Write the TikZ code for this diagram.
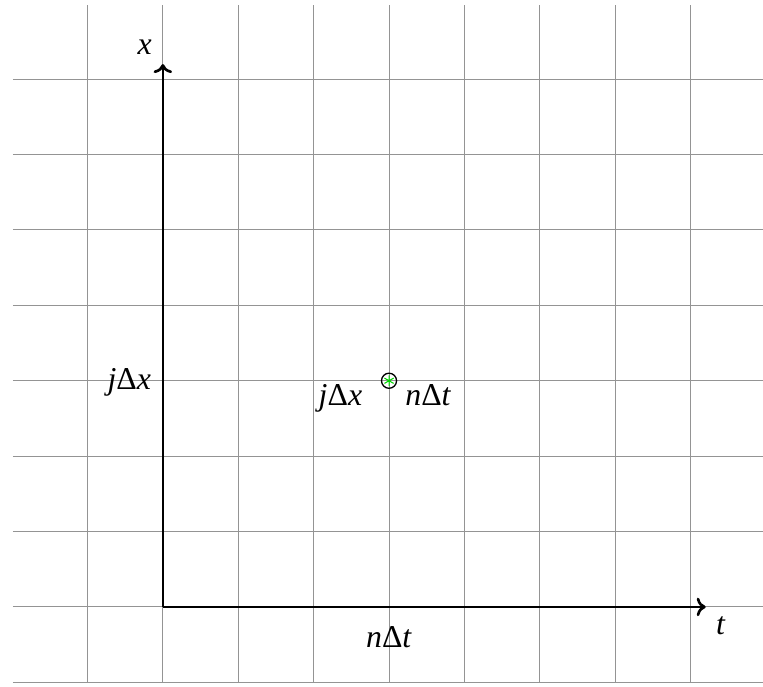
\documentclass[tikz,border=0pt]{standalone}
\usepackage{fontspec}
\setmainfont{Liberation Serif}
\usetikzlibrary{arrows.meta,plotmarks}

\begin{document}
\begin{tikzpicture}[
gridline/.style={draw=black!42,line width=0.4pt},
axis/.style={-{To[width=7pt,length=3.4pt]},line width=1pt},
lbl/.style={inner sep=0pt,font=\fontsize{12}{14}\selectfont},
pointmark/.style={circle,draw,line width=0.5pt,minimum size=0.2cm,inner sep=0pt}]
\useasboundingbox (-2.16,-1.06) rectangle (7.96,8.05);
\draw[gridline] (-1.99,-1) grid (7.99,7.99);
% axes
\coordinate (origin) at (0,0);
\coordinate (tend) at (7.2,0);
\coordinate (xend) at (0,7.2);
\draw[axis] (origin) -- (tend);
\draw[axis] (origin) -- (xend);
\node[lbl,anchor=base] (tlabel) at (7.40,-0.37) {\textit{t}};
\node[lbl,anchor=base] (xlabel) at (-0.24,7.33) {\textit{x}};
\node[lbl,anchor=base] (tick-t) at (3,-0.54) {\textit{n}Δ\textit{t}};
\node[lbl,anchor=base east] (tick-x) at (-0.15,2.88) {\textit{j}Δ\textit{x}};
% grid point
\node[pointmark] (gpoint) at (3,3) {};
\draw[green!85!black] plot[mark=asterisk,mark size=2pt] coordinates {(gpoint.center)};
\node[lbl,anchor=base east] (gpoint-x) at (2.65,2.67) {\textit{j}Δ\textit{x}};
\node[lbl,anchor=base west] (gpoint-t) at (3.21,2.67) {\textit{n}Δ\textit{t}};
\end{tikzpicture}
\end{document}
